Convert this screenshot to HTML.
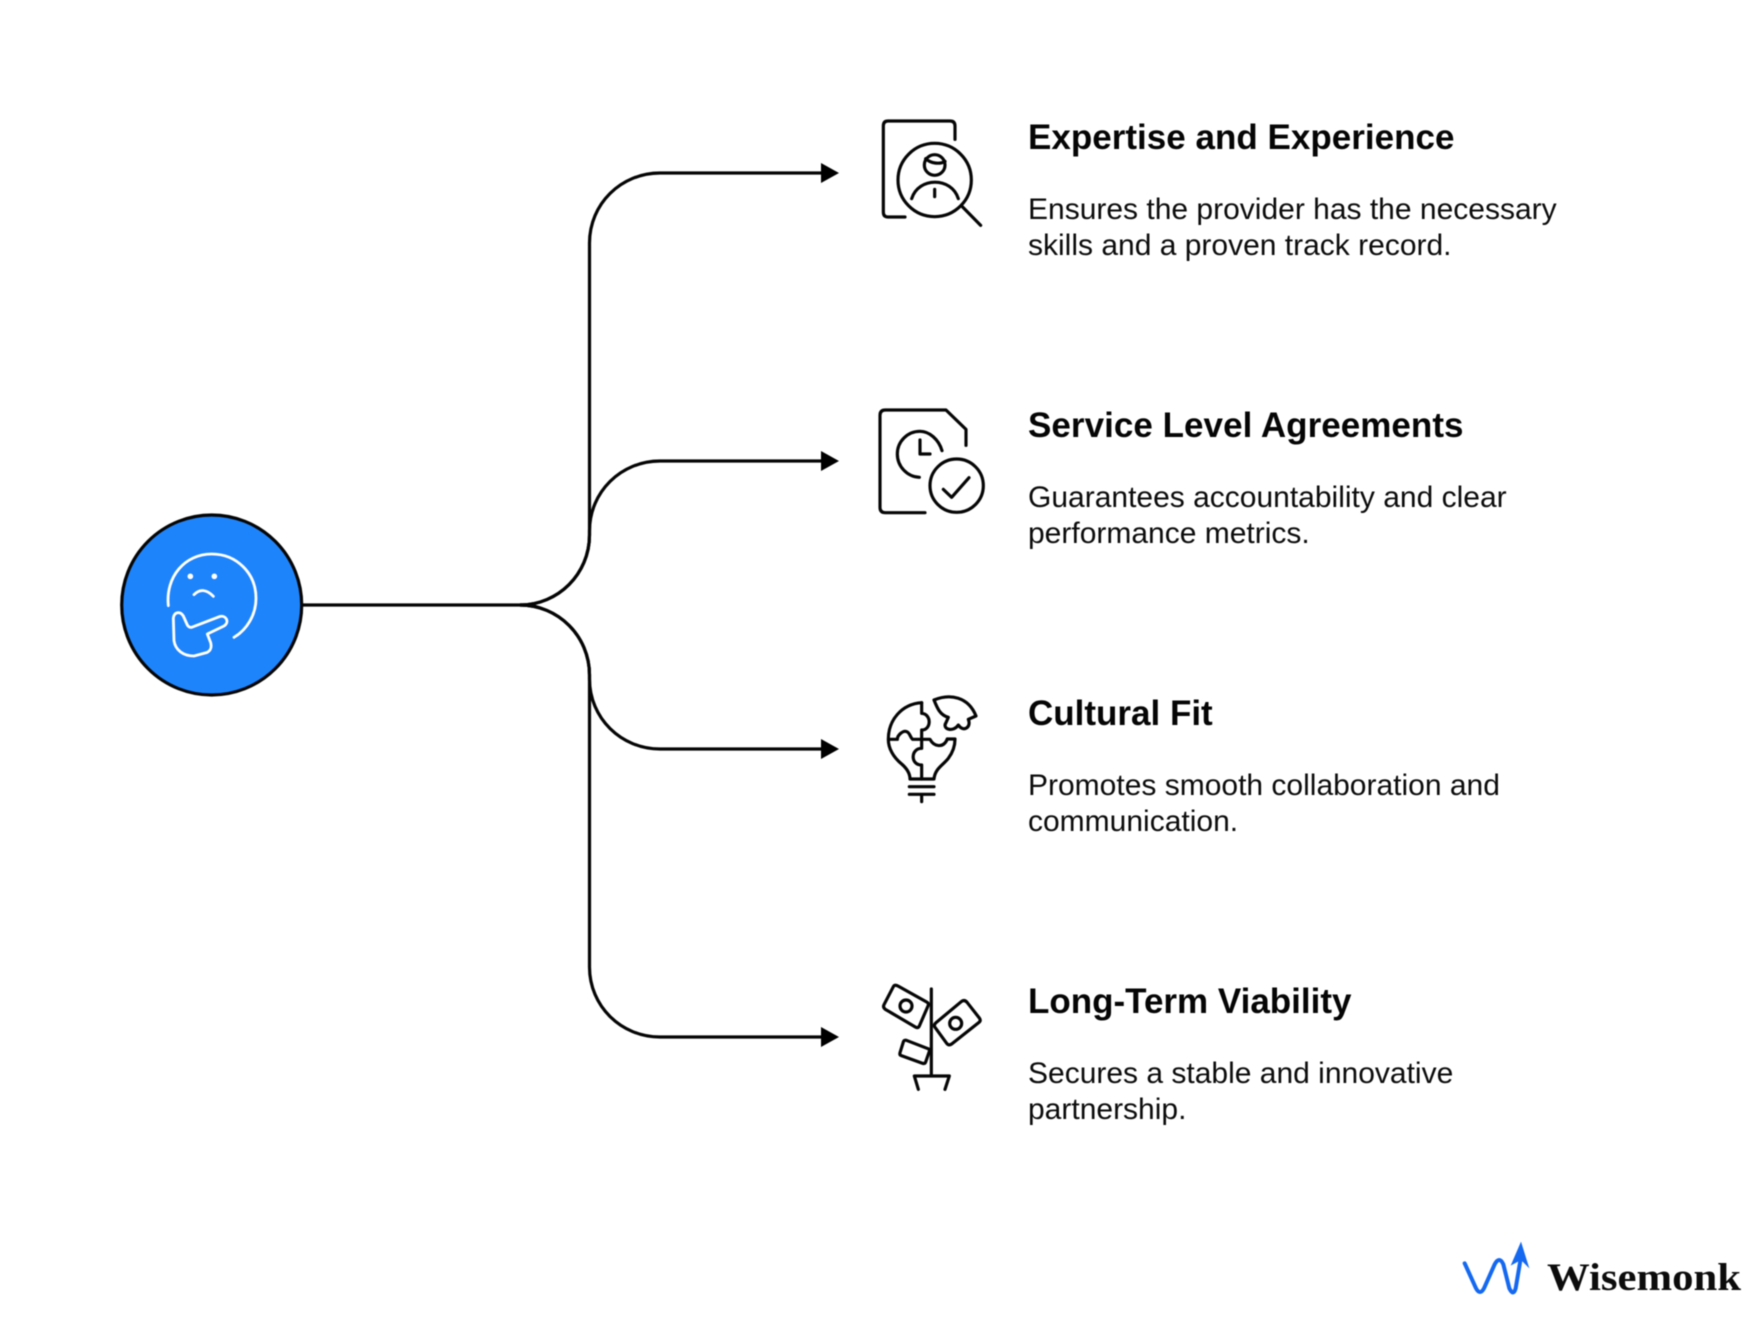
<!DOCTYPE html>
<html>
<head>
<meta charset="utf-8">
<style>
html,body{margin:0;padding:0;background:#fff;}
svg{display:block;filter:blur(.45px);}
.t{font-family:"Liberation Sans",sans-serif;font-weight:700;font-size:35px;fill:#050505;}
.b{font-family:"Liberation Sans",sans-serif;font-size:30px;fill:#0c0c0c;}
.w{font-family:"Liberation Serif",serif;font-weight:700;font-size:39px;fill:#0c0c0c;}
.i{fill:none;stroke:#060606;stroke-width:9.5;stroke-linecap:round;stroke-linejoin:round;}
.c{fill:none;stroke:#050505;stroke-width:3.2;}
</style>
</head>
<body>
<svg width="1752" height="1335" viewBox="0 0 1752 1335" xmlns="http://www.w3.org/2000/svg">
<rect width="1752" height="1335" fill="#fff"/>

<!-- connectors -->
<path class="c" d="M300 605H520C558 605 589.5 574 589.5 535V243C589.5 204 621 173 660 173H825"/>
<path class="c" d="M520 605C558 605 589.5 574 589.5 535V531C589.5 492 621 461 660 461H825"/>
<path class="c" d="M520 605C558 605 589.5 636 589.5 675V679C589.5 718 621 749 660 749H825"/>
<path class="c" d="M520 605C558 605 589.5 636 589.5 675V967C589.5 1006 621 1037 660 1037H825"/>
<polygon points="821,163 839,173 821,183" fill="#000"/>
<polygon points="821,451 839,461 821,471" fill="#000"/>
<polygon points="821,739 839,749 821,759" fill="#000"/>
<polygon points="821,1027 839,1037 821,1047" fill="#000"/>

<!-- central circle -->
<circle cx="211.7" cy="605" r="90" fill="#1e84fb" stroke="#050505" stroke-width="3.2"/>
<g transform="translate(100,490) scale(.33333)" fill="none" stroke="#fff" stroke-width="8.5" stroke-linecap="round" stroke-linejoin="round">
  <path d="M205 347C196 260 255 192 335 192C410 192 468 250 468 325C468 375 440 420 402 442"/>
  <path d="M282 314C300 296 320 298 340 319"/>
  <path d="M262 405L250 378C240 362 222 366 220 385L222 452C226 480 250 498 282 498L322 487C334 480 335 470 332 458L322 432L372 408C390 396 378 374 358 380L275 412C268 413 265 410 262 405Z"/>
  <circle cx="271" cy="259" r="7" fill="#fff" stroke-width="3"/>
  <circle cx="343" cy="259" r="7" fill="#fff" stroke-width="3"/>
</g>

<!-- icon 1 -->
<g class="i" transform="translate(860,100) scale(.33333)">
  <path d="M285 118V78Q285 63 270 63H84Q70 63 70 78V336Q70 351 84 351H135"/>
  <circle cx="224" cy="240" r="110"/>
  <circle cx="224" cy="195" r="31"/>
  <path d="M197 176C212 190 238 194 255 184"/>
  <path d="M155 296C175 230 275 230 295 296"/>
  <path d="M224 268V290"/>
  <path d="M305 318L362 376"/>
</g>

<!-- icon 2 -->
<g class="i" transform="translate(860,390) scale(.33333)">
  <path d="M318 166V118L258 60H76Q60 60 60 76V352Q60 368 76 368H195"/>
  <path d="M246 182C236 148 208 124 180 124C142 124 112 155 112 192C112 230 142 260 178 262"/>
  <path d="M180 150V192H210"/>
  <circle cx="290" cy="287" r="80"/>
  <path d="M250 298L275 322L327 263"/>
</g>

<!-- icon 3 -->
<g class="i" transform="translate(860,680) scale(.33333)">
  <path d="M185 68C125 72 85 120 85 178C85 205 100 232 125 252C140 265 150 280 150 297H222C225 265 250 255 265 235C280 215 285 197 285 177H262"/>
  <path d="M88 178H112C112 165 130 150 140 155C150 158 150 172 158 178H210C222 200 250 206 262 177"/>
  <path d="M185 68V100C215 102 215 150 185 150V205C152 205 150 255 185 255V297"/>
  <path d="M222 60C270 40 325 50 348 108L325 118C335 142 310 158 295 135C280 158 245 148 258 128L265 112C240 105 232 85 222 60Z"/>
  <path d="M148 320H222M148 343H222M185 343V365"/>
</g>

<!-- icon 4 -->
<g class="i" transform="translate(860,970) scale(.33333)">
  <path d="M214 57V315"/>
  <path d="M175 358L163 318H268L255 358"/>
  <path d="M116 49L200 96Q208 100 204 108L178 168Q174 176 166 171L76 118Q68 112 72 104L100 50Q104 42 116 49Z"/>
  <circle cx="138" cy="108" r="18"/>
  <path d="M322 98L358 144Q364 152 356 158L275 222Q266 228 260 220L225 172Q220 165 228 158L305 94Q314 88 322 98Z"/>
  <circle cx="287" cy="160" r="18"/>
  <path d="M142 212L204 236Q210 238 208 244L197 276Q195 282 188 280L124 257Q118 255 120 248L130 216Q132 208 142 212Z"/>
</g>

<!-- text -->
<text class="t" x="1028" y="149" textLength="426.5">Expertise and Experience</text>
<text class="b" x="1028" y="219">Ensures the provider has the necessary</text>
<text class="b" x="1028" y="255">skills and a proven track record.</text>

<text class="t" x="1028" y="437" textLength="435.5">Service Level Agreements</text>
<text class="b" x="1028" y="507">Guarantees accountability and clear</text>
<text class="b" x="1028" y="543">performance metrics.</text>

<text class="t" x="1028" y="725">Cultural Fit</text>
<text class="b" x="1028" y="795">Promotes smooth collaboration and</text>
<text class="b" x="1028" y="831">communication.</text>

<text class="t" x="1028" y="1013">Long-Term Viability</text>
<text class="b" x="1028" y="1083">Secures a stable and innovative</text>
<text class="b" x="1028" y="1119">partnership.</text>

<!-- logo -->
<g transform="translate(1450,1225) scale(.33333)">
  <path d="M44 115L78 190Q90 212 102 190L134 118Q148 92 160 118L178 190Q190 215 197 190L213 95" fill="none" stroke="#1469f0" stroke-width="12" stroke-linecap="round" stroke-linejoin="round"/>
  <polygon points="213,50 238,130 213,105 182,122" fill="#1469f0"/>
</g>
<text class="w" x="1547" y="1290" textLength="194" lengthAdjust="spacingAndGlyphs">Wisemonk</text>
</svg>
</body>
</html>
